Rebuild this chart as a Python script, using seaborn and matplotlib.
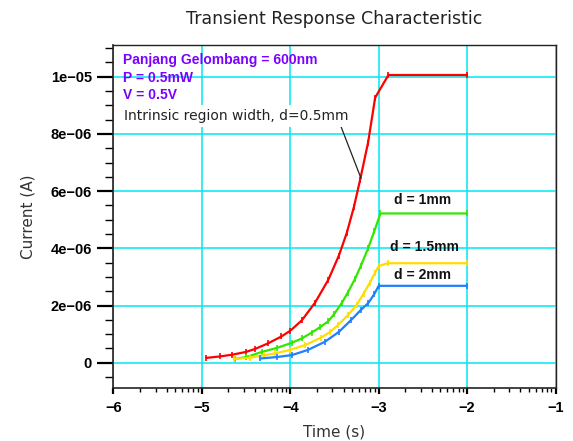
import numpy as np
import pandas as pd
import matplotlib
matplotlib.use("Agg")
import matplotlib.pyplot as plt
import seaborn as sns
from matplotlib.ticker import FixedLocator, FixedFormatter

# ---- data (time in log10 seconds, current in microamps) ----
red_t = [-4.95, -4.8, -4.66, -4.5, -4.4, -4.25, -4.1, -4.0, -3.87, -3.72, -3.57,
         -3.45, -3.36, -3.28, -3.21, -3.12, -3.04, -2.89, -2.0]
red_i = [0.17, 0.22, 0.28, 0.38, 0.48, 0.68, 0.92, 1.12, 1.48, 2.10, 2.90,
         3.75, 4.55, 5.45, 6.40, 7.70, 9.27, 10.06, 10.06]

green_t = [-4.63, -4.5, -4.32, -4.15, -3.98, -3.87, -3.76, -3.66, -3.57, -3.5,
           -3.42, -3.35, -3.27, -3.2, -3.12, -3.05, -2.98, -2.0]
green_i = [0.13, 0.20, 0.38, 0.52, 0.70, 0.85, 1.05, 1.25, 1.45, 1.72,
           2.08, 2.45, 2.92, 3.40, 4.00, 4.60, 5.22, 5.22]

yellow_t = [-4.64, -4.45, -4.3, -4.17, -4.0, -3.83, -3.65, -3.55, -3.46, -3.35,
            -3.25, -3.17, -3.1, -3.04, -3.0, -2.9, -2.0]
yellow_i = [0.13, 0.18, 0.26, 0.33, 0.45, 0.62, 0.88, 1.08, 1.32, 1.66,
            2.02, 2.42, 2.80, 3.15, 3.38, 3.48, 3.48]

blue_t = [-4.34, -4.15, -3.98, -3.8, -3.61, -3.45, -3.31, -3.2, -3.12, -3.05, -3.0, -2.0]
blue_i = [0.15, 0.20, 0.27, 0.45, 0.73, 1.08, 1.50, 1.85, 2.08, 2.40, 2.69, 2.69]

series_names = ["d = 0.5mm", "d = 1mm", "d = 1.5mm", "d = 2mm"]
series_colors = ["#ff0000", "#33e600", "#ffdd00", "#1f80ff"]

x_ticks = [-6, -5, -4, -3, -2, -1]
x_ticklabels = ["\u22126", "\u22125", "\u22124", "\u22123", "\u22122", "\u22121"]
y_ticks = [0, 2e-6, 4e-6, 6e-6, 8e-6, 1e-5]
y_ticklabels = ["0", "2e\u221206", "4e\u221206", "6e\u221206", "8e\u221206", "1e\u221205"]

title = "Transient Response Characteristic"
xlabel = "Time (s)"
ylabel = "Current (A)"
info_lines = ["Panjang Gelombang = 600nm", "P = 0.5mW", "V = 0.5V"]
annot_text = "Intrinsic region width, d=0.5mm"
curve_labels = ["d = 1mm", "d = 1.5mm", "d = 2mm"]

# ---- build dataframe ----
frames = []
for name, t, i in zip(series_names, [red_t, green_t, yellow_t, blue_t],
                      [red_i, green_i, yellow_i, blue_i]):
    frames.append(pd.DataFrame({"t": t, "I": np.array(i) * 1e-6, "d": name}))
df = pd.concat(frames, ignore_index=True)

sns.set_theme(style="ticks")
plt.rcParams["font.family"] = ["DejaVu Sans"]
plt.rcParams["xtick.bottom"] = True
plt.rcParams["ytick.left"] = True

fig = plt.figure(figsize=(5.73, 4.41), dpi=100)
ax = fig.add_axes([0.198, 0.12, 0.7715, 0.778])

for name, col in zip(series_names, series_colors):
    sub = df[df["d"] == name]
    sns.lineplot(data=sub, x="t", y="I", color=col, lw=1.6, marker="|",
                 markersize=4, markeredgewidth=1.2, markeredgecolor=col,
                 sort=False, estimator=None, ax=ax, legend=False, zorder=3)

ax.set_xlim(-6, -1)
ax.set_ylim(-0.885e-6, 11.11e-6)

ax.xaxis.set_major_locator(FixedLocator(x_ticks))
ax.xaxis.set_major_formatter(FixedFormatter(x_ticklabels))
xminor = [n + np.log10(k) for n in range(-6, -1) for k in range(2, 10)]
ax.xaxis.set_minor_locator(FixedLocator(xminor))
ax.yaxis.set_major_locator(FixedLocator(y_ticks))
ax.yaxis.set_major_formatter(FixedFormatter(y_ticklabels))
ax.yaxis.set_minor_locator(FixedLocator(np.arange(-0.5e-6, 11.1e-6, 0.5e-6)))

ax.grid(True, which="major", color="#00e8f0", lw=1.1, zorder=0)
ax.set_axisbelow(True)

ax.tick_params(axis="both", which="both", left=True, bottom=True, right=False,
               top=False, direction="out", color="black", labelcolor="black")
ax.tick_params(axis="y", which="major", length=11.5, width=1.6, pad=4, labelsize=10.5)
ax.tick_params(axis="y", which="minor", length=5.8, width=1.0)
ax.tick_params(axis="x", which="major", length=4.5, width=1.6, pad=5, labelsize=10.5)
ax.tick_params(axis="x", which="minor", length=3.2, width=1.0)
for lab in ax.get_xticklabels() + ax.get_yticklabels():
    lab.set_fontweight("bold")
    lab.set_family(["Liberation Sans", "DejaVu Sans"])

for side, sp in ax.spines.items():
    sp.set_visible(True)
    sp.set_color("#222222")
    sp.set_linewidth(1.2 if side in ("left", "bottom") else 1.0)

ax.set_xlabel(xlabel, fontsize=11, color="#333333", labelpad=7)
ax.set_ylabel(ylabel, fontsize=11, color="#333333", labelpad=11)
ax.set_title(title, fontsize=12.5, color="#222222", pad=15)

# info text
info_y = [10.58e-6, 9.95e-6, 9.36e-6]
for txt, yy in zip(info_lines, info_y):
    ax.text(-5.89, yy, txt, color="#7b00ff", fontsize=10, fontweight="bold",
            family=["Liberation Sans", "DejaVu Sans"], va="center", ha="left", zorder=5)

ax.annotate(annot_text, xy=(-3.2, 6.45e-6), xytext=(-5.88, 8.63e-6),
            fontsize=10, color="#222222", va="center", ha="left",
            bbox=dict(boxstyle="square,pad=0.3", fc="white", ec="none"),
            arrowprops=dict(arrowstyle="-", color="#222222", lw=0.9,
                            shrinkA=0, shrinkB=0,
                            relpos=(0.96, 0.0)), zorder=5)

lab_pos = [(-2.50, 5.69e-6), (-2.48, 4.05e-6), (-2.50, 3.07e-6)]
for txt, (xx, yy) in zip(curve_labels, lab_pos):
    ax.text(xx, yy, txt, fontsize=10, fontweight="bold", color="#111111",
            family=["Liberation Sans", "DejaVu Sans"], ha="center", va="center", zorder=5)

fig.savefig("out.png", dpi=100, facecolor="white")
